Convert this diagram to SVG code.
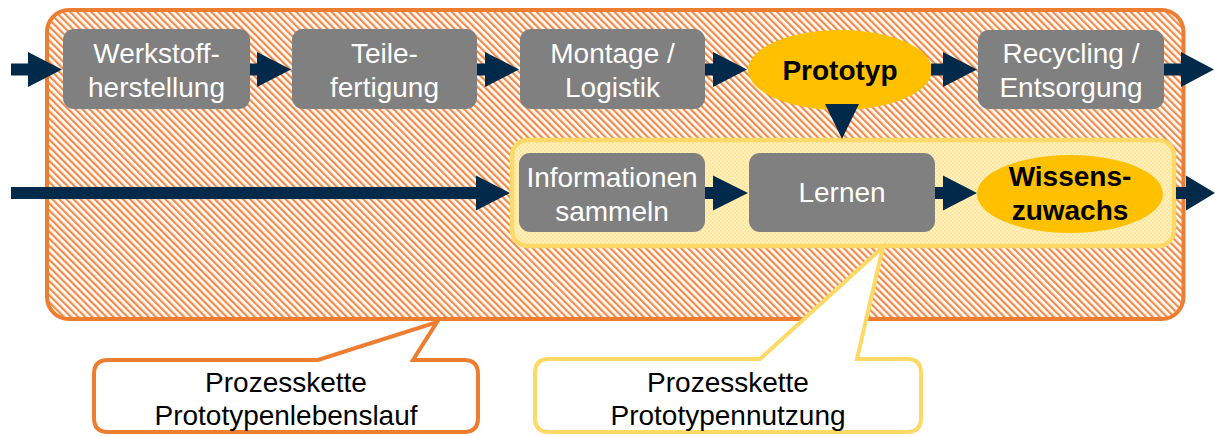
<svg xmlns="http://www.w3.org/2000/svg" width="1215" height="436" viewBox="0 0 1215 436">
  <defs>
    <pattern id="hatch" width="5" height="5" patternUnits="userSpaceOnUse" patternTransform="rotate(-45)">
      <rect width="5" height="5" fill="#ffffff"/>
      <rect width="2.3" height="5" fill="#F08D4B"/>
    </pattern>
    <pattern id="dots" width="4" height="4" patternUnits="userSpaceOnUse">
      <rect width="4" height="4" fill="#FFE699"/>
      <circle cx="1" cy="1" r="0.75" fill="#ffffff"/>
      <circle cx="3" cy="3" r="0.75" fill="#ffffff"/>
    </pattern>
  </defs>
  <style>
    .box { fill: #808080; }
    .wt { fill: #ffffff; font-family: "Liberation Sans", Arial, sans-serif; font-size: 28px; text-anchor: middle; }
    .bt { fill: #000000; font-family: "Liberation Sans", Arial, sans-serif; font-size: 28px; font-weight: bold; text-anchor: middle; }
    .ct { fill: #000000; font-family: "Liberation Sans", Arial, sans-serif; font-size: 28px; text-anchor: middle; }
    .oval { fill: #FFC000; }
    .arr { fill: #00294A; }
  </style>
  <rect width="1215" height="436" fill="#ffffff"/>

  <g id="prozesskette-lebenslauf-container">
    <rect x="47" y="10" width="1136.5" height="309" rx="22" fill="url(#hatch)" stroke="#ED7D31" stroke-width="4"/>
  </g>

  <g id="werkstoffherstellung">
    <rect class="box" x="63" y="29" width="187" height="80" rx="11"/>
    <text class="wt" x="156.5" y="63">Werkstoff-</text>
    <text class="wt" x="156.5" y="97">herstellung</text>
  </g>
  <g id="teilefertigung">
    <rect class="box" x="292" y="29" width="185" height="80" rx="11"/>
    <text class="wt" x="384.5" y="63">Teile-</text>
    <text class="wt" x="384.5" y="97">fertigung</text>
  </g>
  <g id="montage-logistik">
    <rect class="box" x="520" y="29" width="185" height="80" rx="11"/>
    <text class="wt" x="612.5" y="63">Montage /</text>
    <text class="wt" x="612.5" y="97">Logistik</text>
  </g>
  <g id="prototyp">
    <ellipse class="oval" cx="840" cy="70" rx="92" ry="40"/>
    <text class="bt" x="840" y="80">Prototyp</text>
  </g>
  <g id="recycling-entsorgung">
    <rect class="box" x="978" y="30" width="186" height="79" rx="11"/>
    <text class="wt" x="1071" y="63">Recycling /</text>
    <text class="wt" x="1071" y="97">Entsorgung</text>
  </g>

  <g id="prozesskette-nutzung-container">
    <rect x="512" y="140" width="662" height="106" rx="16" fill="url(#dots)" stroke="#FFD966" stroke-width="4.5"/>
  </g>
  <g id="informationen-sammeln">
    <rect class="box" x="519" y="153" width="186" height="79" rx="11"/>
    <text class="wt" x="612" y="187">Informationen</text>
    <text class="wt" x="612" y="221">sammeln</text>
  </g>
  <g id="lernen">
    <rect class="box" x="749" y="153" width="186" height="79" rx="11"/>
    <text class="wt" x="842" y="202">Lernen</text>
  </g>
  <g id="wissenszuwachs">
    <ellipse class="oval" cx="1070" cy="194" rx="93" ry="39"/>
    <text class="bt" x="1070" y="186">Wissens-</text>
    <text class="bt" x="1070" y="220">zuwachs</text>
  </g>

  <g id="connectors">
    <polygon class="arr" points="11,63.5 28,63.5 28,52 62,69.5 28,87 28,75.5 11,75.5"/>
    <polygon class="arr" points="250,63.5 257,63.5 257,52 291,69.5 257,87 257,75.5 250,75.5"/>
    <polygon class="arr" points="477,63.5 485,63.5 485,52 519,69.5 485,87 485,75.5 477,75.5"/>
    <polygon class="arr" points="705,63.5 713,63.5 713,52 747,69.5 713,87 713,75.5 705,75.5"/>
    <polygon class="arr" points="931,63.5 943,63.5 943,52 977,69.5 943,87 943,75.5 931,75.5"/>
    <polygon class="arr" points="1164,63.5 1181,63.5 1181,52 1214,69.5 1181,87 1181,75.5 1164,75.5"/>
    <polygon class="arr" points="825,104 859,104 842,139"/>
    <polygon class="arr" points="11,187 476,187 476,175.5 510,193 476,210.5 476,199 11,199"/>
    <polygon class="arr" points="705,187 713,187 713,175.5 748,193 713,210.5 713,199 705,199"/>
    <polygon class="arr" points="935,187 943,187 943,175.5 977,193 943,210.5 943,199 935,199"/>
    <polygon class="arr" points="1176,187 1186,187 1186,175.5 1215,193 1186,210.5 1186,199 1176,199"/>
  </g>

  <g id="callout-lebenslauf">
    <path d="M 108,360 L 318,360 L 437,322 L 413,360 L 464,360 Q 478,360 478,374 L 478,418 Q 478,432 464,432 L 108,432 Q 94,432 94,418 L 94,374 Q 94,360 108,360 Z" fill="#ffffff" stroke="#ED7D31" stroke-width="4"/>
    <text class="ct" x="286" y="392">Prozesskette</text>
    <text class="ct" x="286" y="425">Prototypenlebenslauf</text>
  </g>
  <g id="callout-nutzung">
    <path d="M 549,359 L 760,359 L 883,247 L 857,359 L 907,359 Q 921,359 921,373 L 921,418 Q 921,432 907,432 L 549,432 Q 535,432 535,418 L 535,373 Q 535,359 549,359 Z" fill="#ffffff" stroke="#FFD966" stroke-width="4"/>
    <text class="ct" x="728" y="392">Prozesskette</text>
    <text class="ct" x="728" y="425">Prototypennutzung</text>
  </g>
</svg>
